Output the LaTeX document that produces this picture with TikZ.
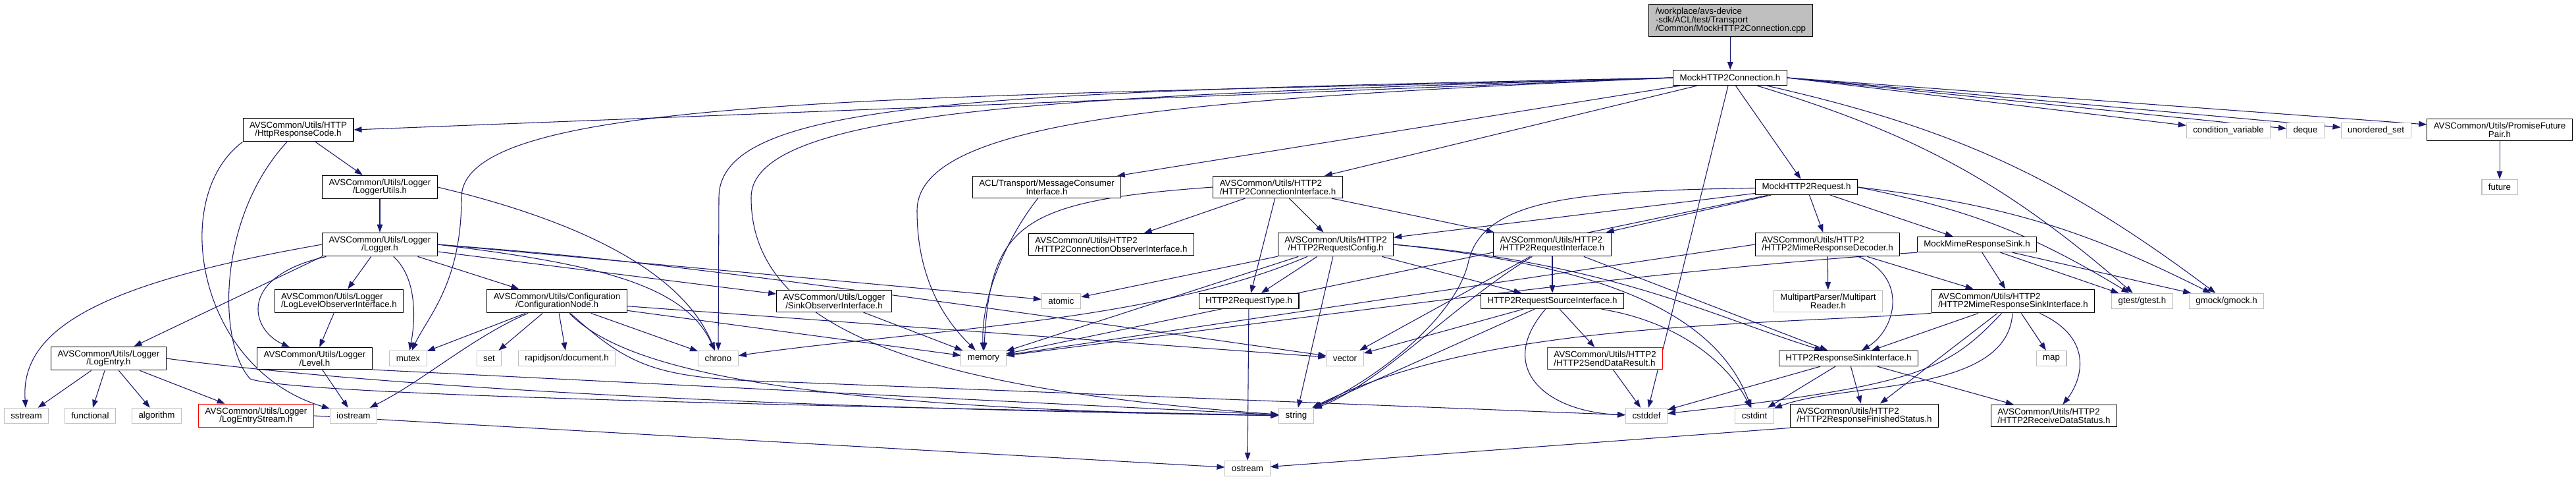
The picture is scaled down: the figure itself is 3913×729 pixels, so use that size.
\documentclass[tikz,border=0pt]{standalone}
\usepackage{fontspec}
\setmainfont{Liberation Sans}
\usepackage{xcolor}
\usepackage{tikz}
\usetikzlibrary{arrows.meta}
\definecolor{depblue}{HTML}{191970}
\definecolor{sysgray}{HTML}{BFBFBF}
\pgfdeclarelayer{edges}
\pgfsetlayers{edges,main}

\begin{document}
\begin{tikzpicture}[x=0.75pt,y=-0.75pt,font=\fontsize{10}{9.5}\selectfont,
  hdr/.style={draw=black,line width=0.8pt,fill=white,inner xsep=7.5pt,inner ysep=4pt,minimum height=17.5pt,align=center},
  hdrl/.style={hdr,align=left},
  sys/.style={hdr,draw=sysgray},
  lost/.style={hdr,draw=red,align=left},
  dep/.style={draw=depblue,line width=0.8pt,-{Triangle[length=9pt,width=6.5pt]}}]
  \useasboundingbox (0,0) rectangle (3913,729);
  % the test file and its mock header
  \node[hdrl,fill=sysgray] (top) at (2629,31) {/workplace/avs-device\\-sdk/ACL/test/Transport\\/Common/MockHTTP2Connection.cpp};
  \node[hdr] (conn) at (2628,118) {MockHTTP2Connection.h};
  % rank 1
  \node[hdr] (httpcode) at (453,197) {AVSCommon/Utils/HTTP\\/HttpResponseCode.h};
  \node[sys] (condvar) at (3385,198) {condition\_variable};
  \node[sys] (deque) at (3502,198) {deque};
  \node[sys] (uset) at (3609,198) {unordered\_set};
  \node[hdr] (promise) at (3797,197) {AVSCommon/Utils/PromiseFuture\\Pair.h};
  % rank 2
  \node[hdr] (logutils) at (577,284) {AVSCommon/Utils/Logger\\/LoggerUtils.h};
  \node[hdr] (msgcons) at (1590,284) {ACL/Transport/MessageConsumer\\Interface.h};
  \node[hdrl] (conniface) at (1941,284) {AVSCommon/Utils/HTTP2\\/HTTP2ConnectionInterface.h};
  \node[hdr] (mockreq) at (2744,284) {MockHTTP2Request.h};
  \node[sys] (future) at (3797,284) {future};
  % rank 3
  \node[hdr] (logger) at (577,371) {AVSCommon/Utils/Logger\\/Logger.h};
  \node[hdrl] (connobs) at (1688,371) {AVSCommon/Utils/HTTP2\\/HTTP2ConnectionObserverInterface.h};
  \node[hdr] (reqconfig) at (2029,371) {AVSCommon/Utils/HTTP2\\/HTTP2RequestConfig.h};
  \node[hdrl] (reqiface) at (2358,371) {AVSCommon/Utils/HTTP2\\/HTTP2RequestInterface.h};
  \node[hdrl] (mimedec) at (2776,371) {AVSCommon/Utils/HTTP2\\/HTTP2MimeResponseDecoder.h};
  \node[hdr] (mocksink) at (3003,371) {MockMimeResponseSink.h};
  % rank 4
  \node[hdrl] (levelobs) at (515,457) {AVSCommon/Utils/Logger\\/LogLevelObserverInterface.h};
  \node[hdr] (confnode) at (846,457) {AVSCommon/Utils/Configuration\\/ConfigurationNode.h};
  \node[hdr] (sinkobs) at (1267,457) {AVSCommon/Utils/Logger\\/SinkObserverInterface.h};
  \node[sys] (atomic) at (1612,457) {atomic};
  \node[hdr] (reqtype) at (1897,457) {HTTP2RequestType.h};
  \node[hdr] (reqsource) at (2358,457) {HTTP2RequestSourceInterface.h};
  \node[sys] (mpreader) at (2777,457) {MultipartParser/Multipart\\Reader.h};
  \node[hdrl] (mimesinkif) at (3058,457) {AVSCommon/Utils/HTTP2\\/HTTP2MimeResponseSinkInterface.h};
  \node[sys] (gtest) at (3254,457) {gtest/gtest.h};
  \node[sys] (gmock) at (3382,457) {gmock/gmock.h};
  % rank 5
  \node[hdr] (logentry) at (165,544) {AVSCommon/Utils/Logger\\/LogEntry.h};
  \node[hdr] (level) at (478,544) {AVSCommon/Utils/Logger\\/Level.h};
  \node[sys] (mutex) at (620,544) {mutex};
  \node[sys] (set) at (743,544) {set};
  \node[sys] (rapidjson) at (861,544) {rapidjson/document.h};
  \node[sys] (chrono) at (1091,544) {chrono};
  \node[sys] (memory) at (1494,544) {memory};
  \node[sys] (vector) at (2043,544) {vector};
  \node[lost] (senddata) at (2438,544) {AVSCommon/Utils/HTTP2\\/HTTP2SendDataResult.h};
  \node[hdr] (respsink) at (2808,544) {HTTP2ResponseSinkInterface.h};
  \node[sys] (map) at (3116,544) {map};
  % rank 6
  \node[sys] (sstream) at (40,631) {sstream};
  \node[sys] (functional) at (137,631) {functional};
  \node[sys] (algorithm) at (238,631) {algorithm};
  \node[lost,align=center] (entrystream) at (389,631) {AVSCommon/Utils/Logger\\/LogEntryStream.h};
  \node[sys] (iostream) at (537,631) {iostream};
  \node[sys] (string) at (1969,631) {string};
  \node[sys] (cstddef) at (2501,631) {cstddef};
  \node[sys] (cstdint) at (2665,631) {cstdint};
  \node[hdrl] (finished) at (2832,631) {AVSCommon/Utils/HTTP2\\/HTTP2ResponseFinishedStatus.h};
  \node[hdrl] (recvstat) at (3120,631) {AVSCommon/Utils/HTTP2\\/HTTP2ReceiveDataStatus.h};
  % rank 7
  \node[sys] (ostream) at (1895,711) {ostream};

  \begin{pgfonlayer}{edges}
  % MockHTTP2Connection.cpp
  \draw[dep] (top) -- (conn);
  % MockHTTP2Connection.h
  \draw[dep] (conn.west) -- (httpcode.east);
  \draw[dep] (conn.west) .. controls (1400,150) and (701,140) .. (701,300) .. controls (701,430) and (650,480) .. (mutex);
  \draw[dep] (conn.west) .. controls (1500,140) and (1092,150) .. (1092,300) -- (chrono);
  \draw[dep] (conn.west) .. controls (1650,145) and (1141,160) .. (1141,300) .. controls (1141,500) and (1400,590) .. (string);
  \draw[dep] (conn.west) .. controls (1800,150) and (1393,180) .. (1393,320) .. controls (1393,440) and (1450,500) .. (memory);
  \draw[dep] (conn) -- (msgcons);
  \draw[dep] (conn) -- (conniface);
  \draw[dep] (conn) -- (mockreq);
  \draw[dep] (conn) -- (cstddef);
  \draw[dep] (conn.east) -- (condvar);
  \draw[dep] (conn.east) -- (deque);
  \draw[dep] (conn.east) -- (uset);
  \draw[dep] (conn.east) -- (promise);
  \draw[dep] (conn) to[bend left=12] (gtest);
  \draw[dep] (conn) to[bend left=12] (gmock);
  % HttpResponseCode.h
  \draw[dep] (httpcode) -- (logutils);
  \draw[dep] (httpcode.south west) .. controls (255,300) and (300,560) .. (iostream);
  \draw[dep] (httpcode) .. controls (330,330) and (330,520) .. (380,575) .. controls (450,600) and (1200,615) .. (string);
  % LoggerUtils.h
  \draw[dep] (logutils) -- (logger);
  \draw[dep] (logutils.east) .. controls (900,340) and (1040,420) .. (chrono);
  % Logger.h
  \draw[dep] (logger.west) .. controls (150,430) and (30,500) .. (sstream);
  \draw[dep] (logger.south west) -- (logentry);
  \draw[dep] (logger) .. controls (360,420) and (380,500) .. (level);
  \draw[dep] (logger) -- (levelobs);
  \draw[dep] (logger) .. controls (632,420) and (632,480) .. (mutex);
  \draw[dep] (logger) -- (confnode);
  \draw[dep] (logger) -- (sinkobs);
  \draw[dep] (logger.east) -- (atomic);
  \draw[dep] (logger.east) .. controls (900,400) and (1040,430) .. (chrono);
  \draw[dep] (logger.east) .. controls (900,390) and (1000,395) .. (vector);
  % LogLevelObserverInterface.h, LogEntry.h, Level.h
  \draw[dep] (levelobs) -- (level);
  \draw[dep] (logentry) -- (sstream);
  \draw[dep] (logentry) -- (functional);
  \draw[dep] (logentry) -- (algorithm);
  \draw[dep] (logentry) -- (entrystream);
  \draw[dep] (logentry.east) .. controls (600,590) and (1200,620) .. (string);
  \draw[dep] (level) -- (iostream);
  \draw[dep] (level.south east) -- (string);
  \draw[dep] (entrystream.east) -- (ostream);
  % ConfigurationNode.h
  \draw[dep] (confnode) -- (mutex);
  \draw[dep] (confnode) .. controls (720,510) and (640,580) .. (iostream);
  \draw[dep] (confnode) -- (set);
  \draw[dep] (confnode) -- (rapidjson);
  \draw[dep] (confnode) -- (chrono);
  \draw[dep] (confnode) -- (memory);
  \draw[dep] (confnode) -- (vector);
  \draw[dep] (confnode) .. controls (930,540) and (1100,620) .. (string);
  \draw[dep] (confnode) .. controls (960,560) and (1000,575) .. (1200,580) -- (cstddef);
  % SinkObserverInterface.h, MessageConsumerInterface.h
  \draw[dep] (sinkobs) -- (memory);
  \draw[dep] (msgcons) .. controls (1530,360) and (1490,450) .. (memory);
  % HTTP2ConnectionInterface.h
  \draw[dep] (conniface.west) .. controls (1550,305) and (1505,340) .. (memory);
  \draw[dep] (conniface) -- (connobs);
  \draw[dep] (conniface) -- (reqtype);
  \draw[dep] (conniface) -- (reqconfig);
  \draw[dep] (conniface) -- (reqiface);
  \draw[dep] (reqtype) -- (ostream);
  % HTTP2RequestConfig.h
  \draw[dep] (reqconfig) -- (reqtype);
  \draw[dep] (reqconfig) -- (reqsource);
  \draw[dep] (reqconfig) -- (string);
  \draw[dep] (reqconfig) -- (atomic);
  \draw[dep] (reqconfig) -- (memory);
  \draw[dep] (reqconfig) .. controls (1750,490) and (1400,500) .. (chrono);
  \draw[dep] (reqconfig.east) .. controls (2450,400) and (2600,480) .. (respsink);
  \draw[dep] (reqconfig.east) .. controls (2400,400) and (2600,460) .. (cstdint);
  % HTTP2RequestInterface.h
  \draw[dep] (reqiface) -- (reqsource);
  \draw[dep] (reqiface) -- (respsink);
  \draw[dep] (reqiface) -- (vector);
  \draw[dep] (reqiface) .. controls (2210,460) and (2100,580) .. (string);
  % HTTP2RequestSourceInterface.h
  \draw[dep] (reqsource) -- (vector);
  \draw[dep] (reqsource) -- (string);
  \draw[dep] (reqsource) -- (senddata);
  \draw[dep] (reqsource) .. controls (2270,560) and (2350,625) .. (cstddef);
  \draw[dep] (reqsource) .. controls (2560,490) and (2630,560) .. (cstdint);
  \draw[dep] (senddata) -- (cstddef);
  % HTTP2ResponseSinkInterface.h
  \draw[dep] (respsink) -- (cstddef);
  \draw[dep] (respsink) -- (cstdint);
  \draw[dep] (respsink) -- (finished);
  \draw[dep] (respsink) -- (recvstat);
  \draw[dep] (finished.south west) -- (ostream);
  % MockHTTP2Request.h
  \draw[dep] (mockreq) -- (reqconfig);
  \draw[dep] (mockreq) -- (reqiface);
  \draw[dep] (mockreq) -- (mimedec);
  \draw[dep] (mockreq) -- (mocksink);
  \draw[dep] (mockreq) -- (memory);
  \draw[dep] (mockreq) .. controls (2400,290) and (2250,300) .. (2230,400) .. controls (2210,480) and (2100,570) .. (string);
  \draw[dep] (mockreq.east) to[bend left=10] (gtest);
  \draw[dep] (mockreq.east) to[bend left=10] (gmock);
  % HTTP2MimeResponseDecoder.h
  \draw[dep] (mimedec) -- (mpreader);
  \draw[dep] (mimedec) .. controls (2900,420) and (2880,500) .. (respsink);
  \draw[dep] (mimedec) -- (mimesinkif);
  \draw[dep] (mimedec.west) -- (memory);
  % MockMimeResponseSink.h
  \draw[dep] (mocksink) -- (mimesinkif);
  \draw[dep] (mocksink) -- (gtest);
  \draw[dep] (mocksink) -- (gmock);
  \draw[dep] (mocksink.south west) .. controls (2500,410) and (2000,480) .. (memory);
  % HTTP2MimeResponseSinkInterface.h
  \draw[dep] (mimesinkif) -- (respsink);
  \draw[dep] (mimesinkif) -- (map);
  \draw[dep] (mimesinkif) .. controls (3185,515) and (3160,580) .. (recvstat);
  \draw[dep] (mimesinkif) -- (finished);
  \draw[dep] (mimesinkif) .. controls (3050,600) and (2800,580) .. (cstdint);
  \draw[dep] (mimesinkif) .. controls (2960,560) and (2920,585) .. (cstddef);
  \draw[dep] (mimesinkif.south west) .. controls (2640,495) and (2250,490) .. (string);
  % PromiseFuturePair.h
  \draw[dep] (promise) -- (future);
  \end{pgfonlayer}
\end{tikzpicture}
\end{document}
